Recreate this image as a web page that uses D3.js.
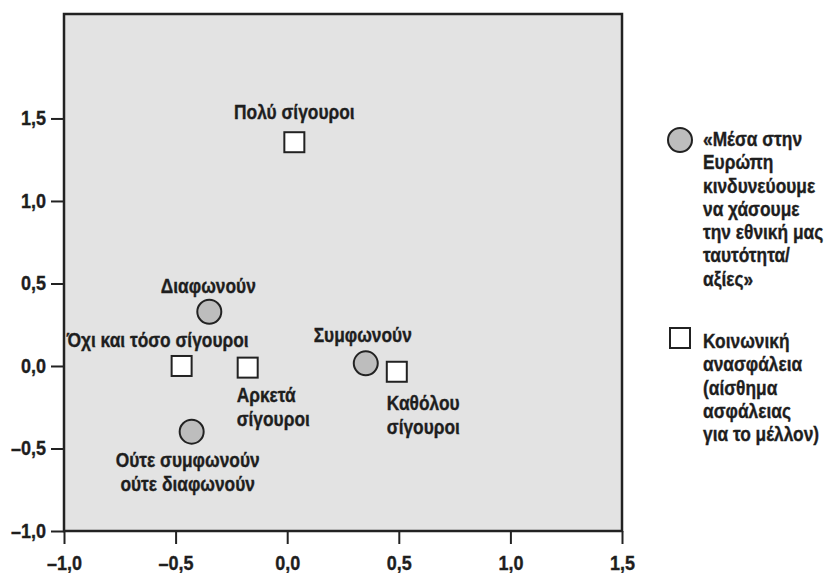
<!DOCTYPE html>
<html>
<head>
<meta charset="utf-8">
<script src="https://cdn.jsdelivr.net/npm/d3@7"></script>
<style>
  html, body { margin: 0; padding: 0; background: #fff; }
  svg text { font-family: "Liberation Sans", Arial, sans-serif; font-weight: bold; fill: #1e1e1e; stroke: #1e1e1e; stroke-width: 0.35px; }
</style>
</head>
<body>
<svg id="chart" width="826" height="573"></svg>
<script>
// ---- data ----
const xTicks = [-1.0, -0.5, 0.0, 0.5, 1.0, 1.5];
const yTicks = [-1.0, -0.5, 0.0, 0.5, 1.0, 1.5];

// Series 1: circles — «Μέσα στην Ευρώπη κινδυνεύουμε να χάσουμε την εθνική μας ταυτότητα/αξίες»
const circleNames = ["Διαφωνούν", "Συμφωνούν", "Ούτε συμφωνούν ούτε διαφωνούν"];
const circleX = [-0.349, 0.352, -0.428];
const circleY = [0.329, 0.016, -0.398];

// Series 2: squares — Κοινωνική ασφάλεια (αίσθημα ασφάλειας για το μέλλον)
const squareNames = ["Πολύ σίγουροι", "Όχι και τόσο σίγουροι", "Αρκετά σίγουροι", "Καθόλου σίγουροι"];
const squareX = [0.032, -0.473, -0.177, 0.491];
const squareY = [1.356, 0.0, -0.010, -0.035];

const legendCircleLines = ["«Μέσα στην", "Ευρώπη", "κινδυνεύουμε", "να χάσουμε", "την εθνική μας", "ταυτότητα/", "αξίες»"];
const legendSquareLines = ["Κοινωνική", "ανασφάλεια", "(αίσθημα", "ασφάλειας", "για το μέλλον)"];

// label layout (text lines, anchor, pixel offsets from the marker)
const circleLabels = [
  { lines: ["Διαφωνούν"], anchor: "middle", dx: -1, dy: -19 },
  { lines: ["Συμφωνούν"], anchor: "middle", dx: -3, dy: -21 },
  { lines: ["Ούτε συμφωνούν", "ούτε διαφωνούν"], anchor: "middle", dx: -4, dy: 35 }
];
const squareLabels = [
  { lines: ["Πολύ σίγουροι"], anchor: "middle", dx: 0, dy: -23 },
  { lines: ["Όχι και τόσο σίγουροι"], anchor: "middle", dx: -24, dy: -19 },
  { lines: ["Αρκετά", "σίγουροι"], anchor: "start", dx: -11, dy: 34 },
  { lines: ["Καθόλου", "σίγουροι"], anchor: "start", dx: -10, dy: 38 }
];

// ---- chart ----
const svg = d3.select("#chart");
const pL = 64, pR = 622, pT = 14, pB = 531;
const x = d3.scaleLinear().domain([-1, 1.5]).range([pL, pR]);
const y = d3.scaleLinear().domain([-1, 2.133]).range([pB, pT]);
const ink = "#222";
const SX = 0.89;      // horizontal condensing of the bold face
const FS = 19.5;
const fmt = v => (v < 0 ? "\u2013" : "") + Math.abs(v).toFixed(1).replace(".", ",");

function addText(px, py, lines, anchor, lh) {
  const g = svg.append("g").attr("transform", `translate(${px},${py}) scale(${SX},1)`);
  const t = g.append("text").attr("text-anchor", anchor).attr("font-size", FS);
  lines.forEach((ln, k) => t.append("tspan").attr("x", 0).attr("y", k * lh).text(ln));
}

svg.append("rect")
  .attr("x", pL).attr("y", pT)
  .attr("width", pR - pL).attr("height", pB - pT)
  .attr("fill", "#e3e3e3").attr("stroke", ink).attr("stroke-width", 2.5);

const xAxis = svg.append("g")
  .attr("transform", `translate(0,${pB})`)
  .call(d3.axisBottom(x).tickValues(xTicks).tickFormat(fmt).tickSize(13).tickPadding(7));
const yAxis = svg.append("g")
  .attr("transform", `translate(${pL},0)`)
  .call(d3.axisLeft(y).tickValues(yTicks).tickFormat(fmt).tickSize(13).tickPadding(5));
const TSX = 0.9;
[xAxis, yAxis].forEach(g => {
  g.select(".domain").remove();
  g.selectAll(".tick line").attr("stroke", ink).attr("stroke-width", 2);
  g.selectAll(".tick text").attr("font-size", 20).attr("fill", "#1e1e1e")
    .attr("x", function () { return (+d3.select(this).attr("x") || 0) / TSX; })
    .attr("transform", `scale(${TSX},1)`);
});
xAxis.selectAll(".tick text").attr("dy", "0.95em");

const circR = 12, sq = 20;

// markers
const circData = circleNames.map((n, i) => ({ n, x: circleX[i], y: circleY[i], lab: circleLabels[i] }));
const sqData = squareNames.map((n, i) => ({ n, x: squareX[i], y: squareY[i], lab: squareLabels[i] }));

svg.selectAll("circle.pt").data(circData).enter().append("circle")
  .attr("class", "pt")
  .attr("cx", d => x(d.x)).attr("cy", d => y(d.y)).attr("r", circR)
  .attr("fill", "#bdbdbd").attr("stroke", ink).attr("stroke-width", 2);

svg.selectAll("rect.pt").data(sqData).enter().append("rect")
  .attr("class", "pt")
  .attr("x", d => x(d.x) - sq / 2).attr("y", d => y(d.y) - sq / 2)
  .attr("width", sq).attr("height", sq)
  .attr("fill", "#fff").attr("stroke", ink).attr("stroke-width", 2);

// labels
[...circData, ...sqData].forEach(d => {
  addText(x(d.x) + d.lab.dx, y(d.y) + d.lab.dy, d.lab.lines, d.lab.anchor, 24.5);
});

// legend
const lgX = 680, lgTextX = 703, lgLH = 23.3;
svg.append("circle").attr("cx", lgX).attr("cy", 140).attr("r", circR)
  .attr("fill", "#bdbdbd").attr("stroke", ink).attr("stroke-width", 2);
addText(lgTextX, 146, legendCircleLines, "start", lgLH);

svg.append("rect").attr("x", lgX - sq / 2).attr("y", 338 - sq / 2).attr("width", sq).attr("height", sq)
  .attr("fill", "#fff").attr("stroke", ink).attr("stroke-width", 2);
addText(lgTextX, 348, legendSquareLines, "start", lgLH);
</script>
</body>
</html>
